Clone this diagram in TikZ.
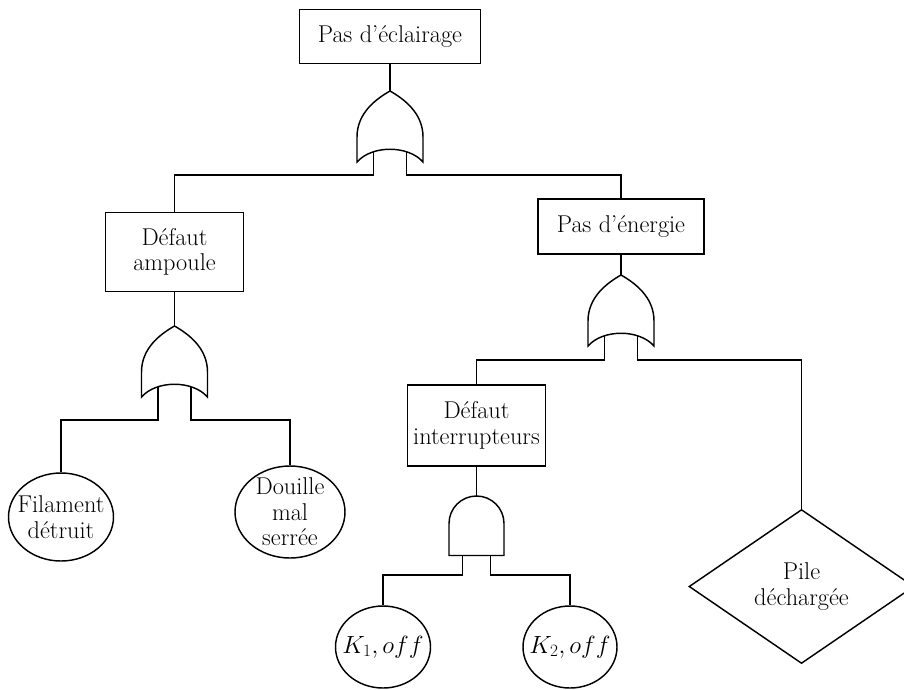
\documentclass[tikz,border=0pt]{standalone}
\usetikzlibrary{shapes.geometric}
\begin{document}
\begin{tikzpicture}[x=1pt, y=-1pt, line width=1.45pt,
  font=\fontsize{24.3}{25.5}\selectfont,
  event/.style={draw, rectangle, align=center, inner sep=0pt},
  basic/.style={draw, ellipse, inner sep=0pt},
  undev/.style={draw, diamond, align=center, inner sep=0pt, aspect=1.46},
  % OR gate (US style) pointing up; origin at the output tip
  orgate/.pic={
    \draw[fill=white] (0,0) .. controls (-14,8) and (-33,22) .. (-33,46)
      -- (-33,71) .. controls (-18.2,54) and (18.2,54) .. (33,71)
      -- (33,46) .. controls (33,22) and (14,8) .. (0,0) -- cycle;
    \coordinate (-out) at (0,0);
    \coordinate (-in1) at (-16.5,60.7);
    \coordinate (-in2) at (16.5,60.7);
  },
  % AND gate pointing up; origin at the output (top of the dome)
  andgate/.pic={
    \draw[fill=white] (-27.5,59.5) -- (-27.5,27.5)
      .. controls (-27.5,12.3) and (-15.2,0) .. (0,0)
      .. controls (15.2,0) and (27.5,12.3) .. (27.5,27.5)
      -- (27.5,59.5) -- cycle;
    \coordinate (-out) at (0,0);
    \coordinate (-in1) at (-14,59.5);
    \coordinate (-in2) at (14,59.5);
  }]
\useasboundingbox (0,0) rectangle (904,689);

% events
\node[event, minimum width=181, minimum height=54] (top) at (390,36.5) {Pas d’éclairage};
\node[event, minimum width=138, minimum height=79] (amp) at (174.5,252) {Défaut\\ampoule};
\node[event, minimum width=166, minimum height=55] (ener) at (621,226.7) {Pas d’énergie};
\node[event, minimum width=138, minimum height=81] (inter) at (476.5,425.5) {Défaut\\interrupteurs};

% basic events
\node[basic, minimum width=105, minimum height=88,
  label={[align=center]center:Filament\\détruit}] (fil) at (61,517) {};
\node[basic, minimum width=110, minimum height=92,
  label={[align=center]center:Douille\\mal\\serrée}] (dou) at (290,512) {};
\node[basic, minimum width=95, minimum height=82,
  label={center:$K_1, off$}] (k1) at (383,647) {};
\node[basic, minimum width=94, minimum height=82,
  label={center:$K_2, off$}] (k2) at (570,647) {};

% undeveloped event
\node[undev, minimum width=225, minimum height=154] (pile) at (801.5,586.5) {Pile\\déchargée};

% gates
\pic (g1) at (390,91) {orgate};
\pic (g2) at (174.5,326) {orgate};
\pic (g3) at (621,275) {orgate};
\pic (g4) at (476.5,496) {andgate};

% connectors
\draw (top.south) -- (g1-out);
\draw (g1-in1) -- ++(0,23.3) -| (amp.north);
\draw (g1-in2) -- ++(0,23.3) -| (ener.north);

\draw (amp.south) -- (g2-out);
\draw (g2-in1) -- ++(0,33.3) -| (fil.north);
\draw (g2-in2) -- ++(0,33.3) -| (dou.north);

\draw (ener.south) -- (g3-out);
\draw (g3-in1) -- ++(0,24.3) -| (inter.north);
\draw (g3-in2) -- ++(0,24.3) -| (pile.north);

\draw (inter.south) -- (g4-out);
\draw (g4-in1) -- ++(0,19.5) -| (k1.north);
\draw (g4-in2) -- ++(0,19.5) -| (k2.north);
\end{tikzpicture}
\end{document}
